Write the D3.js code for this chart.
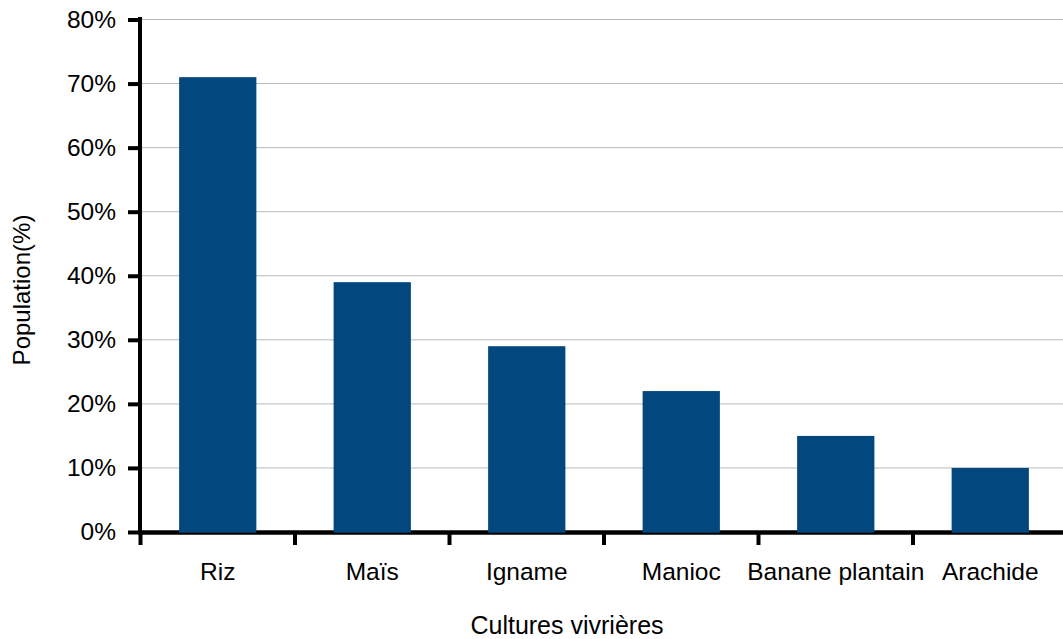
<!DOCTYPE html>
<html><head><meta charset="utf-8">
<script src="https://cdn.jsdelivr.net/npm/d3@7"></script>
<style>
html,body{margin:0;padding:0;background:#fff;overflow:hidden}
text{font-family:"Liberation Sans",Arial,sans-serif;fill:#000}
</style></head>
<body><svg id="c" width="1063" height="639"></svg>
<script>
const categories = ["Riz","Maïs","Igname","Manioc","Banane plantain","Arachide"];
const values = [0.71,0.39,0.29,0.22,0.15,0.10];
const yTicks = [0,0.1,0.2,0.3,0.4,0.5,0.6,0.7,0.8];
const xTitle = "Cultures vivrières";
const yTitle = "Population(%)";

const svg = d3.select("#c");
const x = d3.scaleBand().domain(categories).range([140.5,1067.5]).paddingInner(0.5).paddingOuter(0.25);
const y = d3.scaleLinear().domain([0,0.8]).range([532,19.5]);

// gridlines
svg.append("g").selectAll("line").data(yTicks.filter(d=>d>0)).join("line")
  .attr("x1",140).attr("x2",1063).attr("y1",d=>y(d)).attr("y2",d=>y(d))
  .attr("stroke","#b8b8b8").attr("stroke-width",1);

// y axis
const ya = svg.append("g").attr("transform","translate(140,0)")
  .call(d3.axisLeft(y).tickValues(yTicks).tickFormat(d3.format(".0%")).tickSize(12).tickPadding(12));
ya.select(".domain").remove();
ya.selectAll(".tick line").attr("stroke","#000").attr("stroke-width",4);
ya.selectAll(".tick text").attr("font-size",24.5).attr("font-family","Liberation Sans, Arial, sans-serif").attr("fill","#000");
svg.append("line").attr("x1",140).attr("x2",140).attr("y1",17).attr("y2",534.5).attr("stroke","#000").attr("stroke-width",4);

// x axis line
svg.append("line").attr("x1",138).attr("x2",1063).attr("y1",532.5).attr("y2",532.5).attr("stroke","#000").attr("stroke-width",4.5);

// bars
svg.append("g").selectAll("rect").data(values).join("rect")
  .attr("x",(d,i)=>x(categories[i])).attr("width",x.bandwidth())
  .attr("y",d=>y(d)).attr("height",d=>y(0)-y(d)+0.7)
  .attr("fill","#03477f");

// x ticks at band boundaries
const bounds = categories.map(c=>x(c)-x.step()*0.25).concat([x(categories[categories.length-1])+x.bandwidth()+x.step()*0.25]);
svg.append("g").selectAll("line").data(bounds).join("line")
  .attr("x1",d=>d).attr("x2",d=>d).attr("y1",532).attr("y2",545)
  .attr("stroke","#000").attr("stroke-width",4);

// x labels
svg.append("g").selectAll("text").data(categories).join("text")
  .attr("x",c=>x(c)+x.bandwidth()/2).attr("y",580)
  .attr("text-anchor","middle").attr("font-size",24.5).text(c=>c);

// titles
svg.append("text").attr("x",567).attr("y",634).attr("text-anchor","middle").attr("font-size",25).text(xTitle);
svg.append("text").attr("transform","translate(30,290) rotate(-90)").attr("text-anchor","middle").attr("font-size",24).text(yTitle);
</script></body></html>
